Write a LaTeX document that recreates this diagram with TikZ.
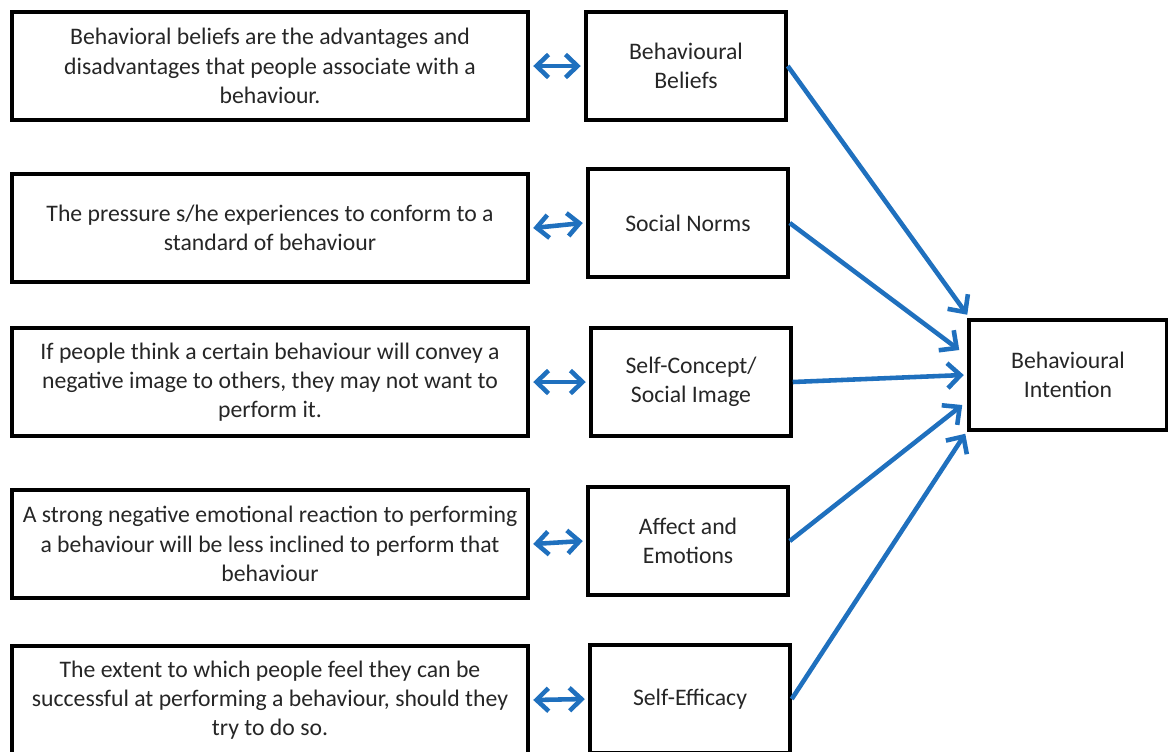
\documentclass[tikz,border=0pt]{standalone}
\usepackage{fontspec}
\setmainfont{Carlito}
\usepackage{tikz}
\usetikzlibrary{arrows.meta,positioning,calc}
\definecolor{arrowblue}{HTML}{1F70BE}
\definecolor{textgrey}{HTML}{262626}
\tikzset{
    desc/.style={rectangle, draw, line width=2pt, minimum width=10.32cm, minimum height=2.16cm, align=center, text=textgrey, font=\fontsize{13.5}{16.6}\selectfont},
    factor/.style={rectangle, draw, line width=2pt, minimum width=4cm, minimum height=2.16cm, align=center, text=textgrey, font=\fontsize{13.5}{16.6}\selectfont},
    link/.style={{Straight Barb[length=2.4mm,width=4.6mm]}-{Straight Barb[length=2.4mm,width=4.6mm]}, line width=2.6pt, arrowblue},
    flow/.style={-{Straight Barb[length=2.6mm,width=5mm]}, line width=2.6pt, arrowblue},
}

\begin{document}
\begin{tikzpicture}[x=0.02cm, y=-0.02cm]
    \clip (0,0) rectangle (1168,751);

    % descriptions
    \node[desc] (d1) at (270,66) {Behavioral beliefs are the advantages and\\disadvantages that people associate with a\\behaviour.};
    \node[desc] (d2) at (270,228) {The pressure s/he experiences to conform to a\\standard of behaviour};
    \node[desc] (d3) at (270,382) {If people think a certain behaviour will convey a\\negative image to others, they may not want to\\perform it.};
    \node[desc] (d4) at (270,544) {A strong negative emotional reaction to performing\\a behaviour will be less inclined to perform that\\behaviour};
    \node[desc] (d5) at (270,700) {The extent to which people feel they can be\\successful at performing a behaviour, should they\\try to do so.};

    % factors
    \node[factor] (bb) at (686,66) {Behavioural\\Beliefs};
    \node[factor] (sn) at (688,223) {Social Norms};
    \node[factor] (sc) at (691,382) {Self-Concept/\\Social Image};
    \node[factor] (ae) at (688,541) {Affect and\\Emotions};
    \node[factor] (se) at (690,699) {Self-Efficacy};

    \node[factor, minimum width=3.96cm, minimum height=2.2cm] (bi) at (1068,375) {Behavioural\\Intention};

    \foreach \d/\f in {d1/bb, d2/sn, d3/sc, d4/ae, d5/se} {
        \draw[link] ([xshift=2pt]\d.east) -- ([xshift=-2pt]\f.west);
    }

    \draw[flow] (bb.east) -- ([yshift=2pt]bi.north west);
    \draw[flow] (sn.east) -- ($(bi.west)+(-8,-25)$);
    \draw[flow] (sc.east) -- ([xshift=-2pt]bi.west);
    \draw[flow] (ae.east) -- ($(bi.west)+(-5,30)$);
    \draw[flow] (se.east) -- ($(bi.south west)+(-2,2)$);
\end{tikzpicture}
\end{document}
